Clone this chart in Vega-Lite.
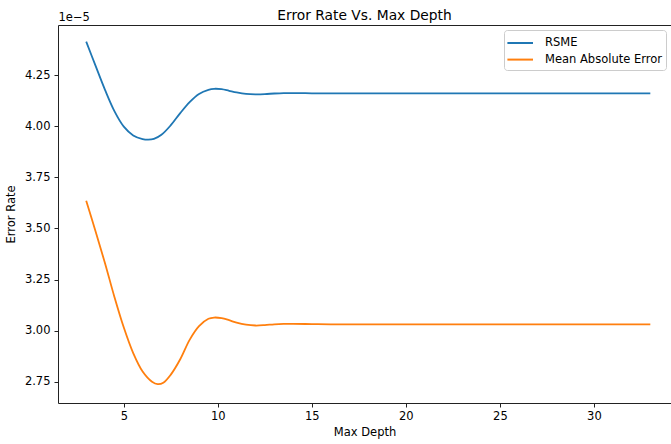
{
  "$schema": "https://vega.github.io/schema/vega-lite/v6.json",
  "width": 613,
  "height": 378,
  "autosize": {"type": "none"},
  "padding": {"left": 58, "top": 25, "right": 0, "bottom": 41},
  "background": "white",
  "config": {
    "font": "DejaVu Sans",
    "view": {"stroke": null},
    "axis": {"labelFont": "DejaVu Sans", "titleFont": "DejaVu Sans", "labelColor": "#000", "titleColor": "#000", "domainColor": "#222", "tickColor": "#222", "grid": false, "titleFontWeight": "normal", "labelFontSize": 11.5, "titleFontSize": 11.5}
  },
  "title": {"text": "Error Rate Vs. Max Depth", "font": "DejaVu Sans", "fontSize": 13.8, "fontWeight": "normal", "color": "#000", "anchor": "middle", "offset": -12},
  "data": {"values": [
    {"depth": 3, "rate": 4.414e-5, "series": "RSME"},
    {"depth": 3.5, "rate": 4.295e-5, "series": "RSME"},
    {"depth": 4, "rate": 4.178e-5, "series": "RSME"},
    {"depth": 4.5, "rate": 4.074e-5, "series": "RSME"},
    {"depth": 5, "rate": 3.998e-5, "series": "RSME"},
    {"depth": 5.5, "rate": 3.955e-5, "series": "RSME"},
    {"depth": 6, "rate": 3.937e-5, "series": "RSME"},
    {"depth": 6.3, "rate": 3.934e-5, "series": "RSME"},
    {"depth": 6.6, "rate": 3.938e-5, "series": "RSME"},
    {"depth": 7, "rate": 3.958e-5, "series": "RSME"},
    {"depth": 7.5, "rate": 4.005e-5, "series": "RSME"},
    {"depth": 8, "rate": 4.064e-5, "series": "RSME"},
    {"depth": 8.5, "rate": 4.118e-5, "series": "RSME"},
    {"depth": 9, "rate": 4.158e-5, "series": "RSME"},
    {"depth": 9.5, "rate": 4.178e-5, "series": "RSME"},
    {"depth": 9.8, "rate": 4.183e-5, "series": "RSME"},
    {"depth": 10.2, "rate": 4.181e-5, "series": "RSME"},
    {"depth": 10.6, "rate": 4.173e-5, "series": "RSME"},
    {"depth": 11, "rate": 4.165e-5, "series": "RSME"},
    {"depth": 11.5, "rate": 4.158e-5, "series": "RSME"},
    {"depth": 12, "rate": 4.156e-5, "series": "RSME"},
    {"depth": 12.5, "rate": 4.157e-5, "series": "RSME"},
    {"depth": 13, "rate": 4.16e-5, "series": "RSME"},
    {"depth": 13.5, "rate": 4.162e-5, "series": "RSME"},
    {"depth": 14, "rate": 4.162e-5, "series": "RSME"},
    {"depth": 15, "rate": 4.161e-5, "series": "RSME"},
    {"depth": 16, "rate": 4.161e-5, "series": "RSME"},
    {"depth": 18, "rate": 4.161e-5, "series": "RSME"},
    {"depth": 20, "rate": 4.161e-5, "series": "RSME"},
    {"depth": 22, "rate": 4.161e-5, "series": "RSME"},
    {"depth": 24, "rate": 4.161e-5, "series": "RSME"},
    {"depth": 26, "rate": 4.161e-5, "series": "RSME"},
    {"depth": 28, "rate": 4.161e-5, "series": "RSME"},
    {"depth": 30, "rate": 4.161e-5, "series": "RSME"},
    {"depth": 33, "rate": 4.161e-5, "series": "RSME"},
    {"depth": 3, "rate": 3.635e-5, "series": "Mean Absolute Error"},
    {"depth": 3.5, "rate": 3.485e-5, "series": "Mean Absolute Error"},
    {"depth": 4, "rate": 3.33e-5, "series": "Mean Absolute Error"},
    {"depth": 4.5, "rate": 3.165e-5, "series": "Mean Absolute Error"},
    {"depth": 5, "rate": 3.015e-5, "series": "Mean Absolute Error"},
    {"depth": 5.5, "rate": 2.89e-5, "series": "Mean Absolute Error"},
    {"depth": 6, "rate": 2.8e-5, "series": "Mean Absolute Error"},
    {"depth": 6.5, "rate": 2.75e-5, "series": "Mean Absolute Error"},
    {"depth": 6.8, "rate": 2.738e-5, "series": "Mean Absolute Error"},
    {"depth": 7.1, "rate": 2.745e-5, "series": "Mean Absolute Error"},
    {"depth": 7.5, "rate": 2.785e-5, "series": "Mean Absolute Error"},
    {"depth": 8, "rate": 2.86e-5, "series": "Mean Absolute Error"},
    {"depth": 8.5, "rate": 2.955e-5, "series": "Mean Absolute Error"},
    {"depth": 9, "rate": 3.022e-5, "series": "Mean Absolute Error"},
    {"depth": 9.5, "rate": 3.058e-5, "series": "Mean Absolute Error"},
    {"depth": 9.8, "rate": 3.064e-5, "series": "Mean Absolute Error"},
    {"depth": 10.2, "rate": 3.061e-5, "series": "Mean Absolute Error"},
    {"depth": 10.6, "rate": 3.051e-5, "series": "Mean Absolute Error"},
    {"depth": 11, "rate": 3.039e-5, "series": "Mean Absolute Error"},
    {"depth": 11.5, "rate": 3.029e-5, "series": "Mean Absolute Error"},
    {"depth": 12, "rate": 3.025e-5, "series": "Mean Absolute Error"},
    {"depth": 12.5, "rate": 3.027e-5, "series": "Mean Absolute Error"},
    {"depth": 13, "rate": 3.031e-5, "series": "Mean Absolute Error"},
    {"depth": 13.5, "rate": 3.033e-5, "series": "Mean Absolute Error"},
    {"depth": 14, "rate": 3.033e-5, "series": "Mean Absolute Error"},
    {"depth": 15, "rate": 3.032e-5, "series": "Mean Absolute Error"},
    {"depth": 16, "rate": 3.031e-5, "series": "Mean Absolute Error"},
    {"depth": 18, "rate": 3.031e-5, "series": "Mean Absolute Error"},
    {"depth": 20, "rate": 3.031e-5, "series": "Mean Absolute Error"},
    {"depth": 22, "rate": 3.031e-5, "series": "Mean Absolute Error"},
    {"depth": 24, "rate": 3.031e-5, "series": "Mean Absolute Error"},
    {"depth": 26, "rate": 3.031e-5, "series": "Mean Absolute Error"},
    {"depth": 28, "rate": 3.031e-5, "series": "Mean Absolute Error"},
    {"depth": 30, "rate": 3.031e-5, "series": "Mean Absolute Error"},
    {"depth": 33, "rate": 3.031e-5, "series": "Mean Absolute Error"}
  ]},
  "resolve": {"axis": {"x": "independent"}},
  "layer": [
    {
      "mark": {"type": "line", "interpolate": "catmull-rom", "strokeWidth": 1.8},
      "encoding": {
        "x": {"field": "depth", "type": "quantitative", "scale": {"domain": [1.5, 34.1], "nice": false, "zero": false},
              "axis": {"orient": "bottom", "title": "Max Depth", "values": [5, 10, 15, 20, 25, 30], "tickSize": 4, "labelPadding": 3, "titlePadding": 5, "domainWidth": 1, "labelFlush": false}},
        "y": {"field": "rate", "type": "quantitative", "scale": {"domain": [2.646e-5, 4.495e-5], "nice": false, "zero": false},
              "axis": {"title": "Error Rate", "values": [2.75e-5, 3.0e-5, 3.25e-5, 3.5e-5, 3.75e-5, 4.0e-5, 4.25e-5], "labelExpr": "format(datum.value*100000, '.2f')", "tickSize": 4, "labelPadding": 4, "titlePadding": 8, "domainWidth": 1}},
        "color": {"field": "series", "type": "nominal", "sort": ["RSME", "Mean Absolute Error"],
                  "scale": {"domain": ["RSME", "Mean Absolute Error"], "range": ["#1f77b4", "#ff7f0e"]},
                  "legend": {"title": null, "orient": "none", "legendX": 446, "legendY": 5, "symbolType": "M-1.2,0H2", "symbolSize": 256, "symbolStrokeWidth": 2, "labelFontSize": 11.5, "labelFont": "DejaVu Sans", "labelColor": "#000", "labelOffset": 19, "rowPadding": 1.6, "padding": 4, "fillColor": "white", "strokeColor": "#cccccc", "cornerRadius": 3}}
      }
    },
    {
      "mark": {"type": "line", "opacity": 0},
      "encoding": {
        "x": {"field": "depth", "type": "quantitative",
              "axis": {"orient": "top", "title": "1e\u22125", "labels": false, "ticks": false, "domainWidth": 1, "titleAnchor": "start", "titleAlign": "left", "titlePadding": 3}},
        "y": {"field": "rate", "type": "quantitative"},
        "detail": {"field": "series"}
      }
    }
  ]
}
